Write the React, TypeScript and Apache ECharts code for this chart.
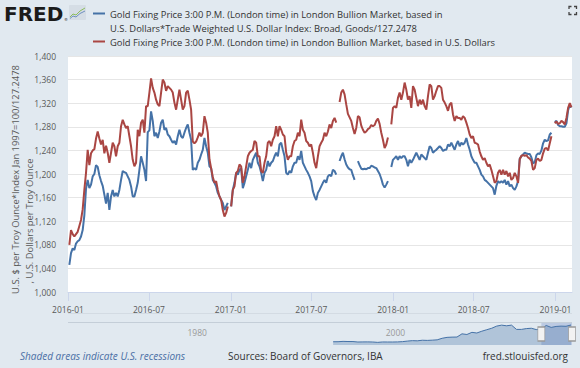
import React, { useEffect, useRef } from 'react';
import * as echarts from 'echarts';

// ---------- data ----------
// Samples of the two daily series, taken every STEP_DAYS from SERIES_START
const SERIES_START = '2016-01-04';
const STEP_DAYS = 3.75;

// Gold, USD per troy ounce
const USD_2016_H1 = [1080,1105,1098,1094,1098,1102,1112,1122,1140,1173,1202,1241,1215,1235,1240,1242,1260,1272,1260,1250,1258,1235,1248,1236,1219,1236,1253,1247,1230,1247,1253,1281,1292,1284,1278,1281,1264,1247,1224,1213,1219,1275,1264,1287,1292,1270,1315];
const USD_2016_H2 = [1315,1338,1362,1346,1338,1326,1318,1315,1338,1360,1355,1341,1349,1346,1343,1338,1321,1309,1326,1343,1326,1309,1315,1338,1341,1326,1309,1255,1252,1255,1262,1270,1264,1270,1298,1287,1270,1225,1210,1195,1185,1188,1173,1162,1156,1139,1128,1134,1145,null];
const USD_2017_H1 = [1145,1173,1179,1202,1205,1216,1213,1185,1196,1213,1230,1236,1239,1241,1256,1253,1230,1230,1205,1202,1219,1230,1253,1256,1247,1258,1264,1281,1264,1281,1275,1267,1264,1236,1224,1230,1230,1247,1256,1258,1270,1264,1292,1275,1270,1256,1253,1247,1250];
const USD_2017_H2 = [1236,1219,1210,1230,1247,1253,1258,1270,1264,1272,1284,1278,1290,1295,1287,null,1322,1338,1343,1335,1318,1302,1296,1290,1278,1268,1278,1298,1296,1282,1275,1270,1272,1276,1278,1283,1281,1283,1290,1294,1285,1270,1258,1244,1250,1262,null,1284,1312];
const USD_2018_H1 = [1315,1312,1329,1338,1326,1338,1355,1343,1326,1332,1312,1349,1343,1329,1315,1326,1318,1326,1315,1309,1332,1352,1349,1326,1332,1341,1349,1349,1346,1326,1321,1315,1307,1318,1321,1301,1290,1298,1295,1295,1292,1298,1295,1287,1278,1267,1261,1264,1253];
const USD_2018_H2 = [1252,1250,1238,1230,1224,1227,1219,1213,1216,1207,1196,1185,1188,1202,1207,1199,1207,1199,1205,1196,1202,1190,1193,1202,1196,1185,1225,1231,1232,1231,1232,1228,1226,1222,1207,1210,1224,1226,1222,1224,1235,1243,1244,1240,1252,1264,null,1286,1289,1285,1286,1290,1288,1284,1295,1312,1320,1313];

// Gold * Trade Weighted USD Index (Broad, Goods) / 127.2478
const TWI_2016_H1 = [1046,1066,1074,1071,1082,1086,1088,1094,1105,1130,1175,1190,1176,1182,1196,1200,1215,1212,1198,1188,1180,1165,1150,1168,1139,1162,1173,1162,1168,1162,1173,1190,1205,1203,1202,1196,1190,1179,1162,1162,1173,1185,1207,1230,1219,1207,1188];
const TWI_2016_H2 = [1271,1274,1306,1290,1264,1270,1261,1272,1287,1292,1275,1278,1267,1264,1258,1253,1256,1250,1264,1275,1264,1261,1270,1278,1284,1270,1258,1207,1210,1207,1219,1224,1233,1241,1261,1247,1236,1213,1210,1190,1185,1179,1168,1162,1156,1151,1139,1145,1151,null];
const TWI_2017_H1 = [1145,1173,1185,1202,1199,1207,1210,1176,1185,1196,1207,1219,1210,1224,1230,1236,1219,1213,1202,1188,1202,1207,1222,1213,1219,1222,1230,1236,1230,1250,1253,1241,1230,1202,1199,1205,1202,1213,1219,1219,1230,1224,1239,1219,1213,1207,1202,1196,1188];
const TWI_2017_H2 = [1171,1162,1156,1168,1173,1179,1185,1190,1185,1196,1199,1196,1207,1205,1199,null,1222,1230,1236,1225,1216,1211,1208,1207,1198,1190,null,1222,1215,1209,1208,1209,1208,1210,1210,1214,1213,1211,1210,1205,1200,1192,1182,1177,1182,1188,null,1212,1224];
const TWI_2018_H1 = [1227,1230,1224,1230,1227,1230,1230,1224,1213,1224,1219,1224,1230,1236,1230,1224,1233,1230,1227,1224,1236,1247,1244,1236,1239,1241,1244,1247,1244,1239,1241,1241,1250,1247,1253,1247,1241,1250,1256,1247,1253,1250,1253,1261,1250,1241,1230,1224,1219];
const TWI_2018_H2 = [1219,1213,1207,1199,1196,1190,1188,1185,1182,1179,1176,1165,1180,1188,1185,1188,1185,1190,1182,1188,1179,1182,1176,1173,1179,1188,1226,1230,1233,1236,1235,1234,1234,1228,1218,1220,1232,1235,1234,1240,1252,1258,1256,1257,1267,1270,null,1288,1290,1283,1281,1281,1280,1280,1286,1308,1317,1313];

const X_MIN = '2016-01-01';
const X_MAX = '2019-02-07';
const X_TICKS = ['2016-01-01', '2016-07-01', '2017-01-01', '2017-07-01', '2018-01-01', '2018-07-01', '2019-01-01'];
const Y_MIN = 1000;
const Y_MAX = 1400;
const Y_STEP = 40;

// Navigator (full history of the first series, coarse)
const NAV_MIN = '1968-04-01';
const NAV_TICKS = ['1980-01-01', '2000-01-01'];
const NAV_DATES = ['1995-01','1995-07','1996-01','1996-07','1997-01','1997-07','1998-01','1998-07','1999-01','1999-07','2000-01','2000-07','2001-01','2001-07','2002-01','2002-07','2003-01','2003-07','2004-01','2004-07','2005-01','2005-07','2006-01','2006-07','2007-01','2007-07','2008-01','2008-07','2009-01','2009-07','2010-01','2010-07','2011-01','2011-07','2012-01','2012-07','2013-01','2013-07','2014-01','2014-07','2015-01','2015-07','2016-01','2016-07','2017-01','2017-07','2018-01','2018-07','2019-01'];
const NAV_VALUES = [278,280,300,292,290,262,268,270,262,240,265,262,262,268,285,318,345,335,370,360,375,395,490,545,560,565,760,720,850,810,920,1010,1100,1230,1290,1250,1290,1030,1030,1080,1100,1020,1050,1270,1150,1210,1230,1220,1300];
const NAV_SELECTION = ['2016-01-04', '2019-02-07'];

const SERIES_NAMES = [
  'Gold Fixing Price 3:00 P.M. (London time) in London Bullion Market, based in U.S. Dollars*Trade Weighted U.S. Dollar Index: Broad, Goods/127.2478',
  'Gold Fixing Price 3:00 P.M. (London time) in London Bullion Market, based in U.S. Dollars',
];

// ---------- styles ----------
const BLUE = '#4572a7';
const RED = '#aa4643';
const BG = '#e1e9f0';
const FONT = '"Open Sans", "DejaVu Sans", sans-serif';

function ts(s: string): number {
  const p = s.split('-').map(Number);
  return new Date(p[0], (p[1] || 1) - 1, p[2] || 1).getTime();
}

function buildSeries(values: (number | null)[]) {
  const t0 = ts(SERIES_START);
  return values.map((v, i) => [t0 + i * STEP_DAYS * 86400000, v]);
}

function ym(v: number) {
  const d = new Date(v);
  return d.getFullYear() + '-' + String(d.getMonth() + 1).padStart(2, '0');
}

export default function App() {
  const ref = useRef<HTMLDivElement>(null);

  useEffect(() => {
    if (!ref.current) return;
    document.body.style.margin = '0';
    const chart = echarts.init(ref.current, undefined, { renderer: 'svg' });

    const usd = [...USD_2016_H1, ...USD_2016_H2, ...USD_2017_H1, ...USD_2017_H2, ...USD_2018_H1, ...USD_2018_H2];
    const twi = [...TWI_2016_H1, ...TWI_2016_H2, ...TWI_2017_H1, ...TWI_2017_H2, ...TWI_2018_H1, ...TWI_2018_H2];
    const nav = NAV_DATES.map((d, i) => [ts(d), NAV_VALUES[i]]);
    const navMid = (80 + 1420) / 2;

    const legendFont = '9.4px ' + FONT;
    const titleFont = '9.4px ' + FONT;
    const footFont = '10px ' + FONT;
    const textCol = '#333333';

    chart.setOption({
      animation: false,
      backgroundColor: BG,
      textStyle: { fontFamily: FONT },
      grid: [
        { left: 68, top: 56, width: 504, height: 236, show: true, backgroundColor: '#ffffff', borderWidth: 0 },
        { left: 68, top: 323, width: 504, height: 22, show: false },
      ],
      xAxis: [
        {
          type: 'value', gridIndex: 0, min: ts(X_MIN), max: ts(X_MAX), scale: true,
          axisLine: { show: true, lineStyle: { color: '#ccd6eb', width: 1 } },
          axisTick: { show: true, customValues: X_TICKS.map(ts), length: 9, lineStyle: { color: '#ccd6eb' } },
          axisLabel: { customValues: X_TICKS.map(ts), formatter: (v: number) => ym(v), color: '#595959', fontSize: 8.5, margin: 13 },
          splitLine: { show: false },
        },
        {
          type: 'value', gridIndex: 1, min: ts(NAV_MIN), max: ts(X_MAX), scale: true,
          axisLine: { show: false }, axisTick: { show: false }, splitLine: { show: false },
          axisLabel: {
            inside: true, customValues: NAV_TICKS.map(ts), margin: 8,
            formatter: (v: number) => String(new Date(v).getFullYear()),
            color: '#999999', fontSize: 8.5, align: 'left', padding: [0, 0, 0, 3],
          },
        },
      ],
      yAxis: [
        {
          type: 'value', gridIndex: 0, min: Y_MIN, max: Y_MAX, interval: Y_STEP,
          axisLine: { show: false }, axisTick: { show: false },
          axisLabel: { color: '#595959', fontSize: 8.5, margin: 12, formatter: (v: number) => v.toLocaleString('en-US') },
          splitLine: { lineStyle: { color: '#e6e6e6', width: 1 } },
        },
        { type: 'value', gridIndex: 1, min: 80, max: 1420, show: false },
      ],
      series: [
        {
          name: SERIES_NAMES[0], type: 'line', xAxisIndex: 0, yAxisIndex: 0,
          data: buildSeries(twi), showSymbol: false, connectNulls: false,
          lineStyle: { color: BLUE, width: 2 }, itemStyle: { color: BLUE }, silent: true,
        },
        {
          name: SERIES_NAMES[1], type: 'line', xAxisIndex: 0, yAxisIndex: 0,
          data: buildSeries(usd), showSymbol: false, connectNulls: false,
          lineStyle: { color: RED, width: 2 }, itemStyle: { color: RED }, silent: true,
        },
        {
          name: 'navigator', type: 'line', xAxisIndex: 1, yAxisIndex: 1,
          data: nav, showSymbol: false, silent: true,
          lineStyle: { color: BLUE, width: 1 }, areaStyle: { color: 'rgba(69,114,167,0.45)' },
          markArea: {
            silent: true,
            itemStyle: { color: 'rgba(102,133,194,0.3)' },
            data: [[{ xAxis: ts(NAV_SELECTION[0]) }, { xAxis: ts(NAV_SELECTION[1]) }]],
          },
          markPoint: {
            silent: true, symbol: 'rect', symbolSize: [7, 14], label: { show: false },
            itemStyle: { color: '#f2f2f2', borderColor: '#999999', borderWidth: 1 },
            data: [
              { coord: [ts(NAV_SELECTION[0]), navMid] },
              { coord: [ts(NAV_SELECTION[1]), navMid] },
            ],
          },
        },
      ],
      graphic: [
        // FRED logo
        { type: 'text', x: 4, y: 4, style: { text: 'FRED', font: 'bold 20px "DejaVu Sans"', fill: '#1b1b1b' } },
        { type: 'text', x: 64, y: 17, style: { text: '\u00ae', font: '4px "DejaVu Sans"', fill: '#1b1b1b' } },
        { type: 'rect', shape: { x: 69, y: 5, width: 17, height: 15, r: 1 }, style: { fill: '#d5dde5' } },
        { type: 'polyline', shape: { points: [[70, 17], [73, 14], [76, 15], [80, 11], [85, 8]] }, style: { stroke: '#8bbd5c', lineWidth: 1, fill: null } },
        { type: 'polyline', shape: { points: [[70, 18.5], [73, 16], [76, 17], [80, 13.5], [85, 11]] }, style: { stroke: '#6d8fbf', lineWidth: 1, fill: null } },
        // legend
        { type: 'line', shape: { x1: 93, y1: 13.5, x2: 105, y2: 13.5 }, style: { stroke: BLUE, lineWidth: 2 } },
        { type: 'text', x: 110, y: 14, style: { text: 'Gold Fixing Price 3:00 P.M. (London time) in London Bullion Market, based in', font: legendFont, fill: textCol, verticalAlign: 'middle' } },
        { type: 'text', x: 110, y: 28, style: { text: 'U.S. Dollars*Trade Weighted U.S. Dollar Index: Broad, Goods/127.2478', font: legendFont, fill: textCol, verticalAlign: 'middle' } },
        { type: 'line', shape: { x1: 93, y1: 41.5, x2: 105, y2: 41.5 }, style: { stroke: RED, lineWidth: 2 } },
        { type: 'text', x: 110, y: 42, style: { text: SERIES_NAMES[1], font: legendFont, fill: textCol, verticalAlign: 'middle' } },
        // full-screen icon
        { type: 'polyline', shape: { points: [[569, 9], [569, 6.5], [571.5, 6.5]] }, style: { stroke: '#444', lineWidth: 1.3, fill: null } },
        { type: 'polyline', shape: { points: [[574, 6.5], [576.5, 6.5], [576.5, 9]] }, style: { stroke: '#444', lineWidth: 1.3, fill: null } },
        { type: 'polyline', shape: { points: [[569, 12], [569, 14.5], [571.5, 14.5]] }, style: { stroke: '#444', lineWidth: 1.3, fill: null } },
        { type: 'polyline', shape: { points: [[574, 14.5], [576.5, 14.5], [576.5, 12]] }, style: { stroke: '#444', lineWidth: 1.3, fill: null } },
        // y-axis title
        { type: 'text', x: 15, y: 179.5, rotation: Math.PI / 2, style: { text: 'U.S. $ per Troy Ounce*Index Jan 1997=100/127.2478', font: titleFont, fill: '#595959', align: 'center', verticalAlign: 'middle' } },
        { type: 'text', x: 29, y: 221, rotation: Math.PI / 2, style: { text: ', U.S. Dollars per Troy Ounce', font: titleFont, fill: '#595959', align: 'center', verticalAlign: 'middle' } },
        // navigator frame lines
        { type: 'line', shape: { x1: 68, y1: 313.5, x2: 572, y2: 313.5 }, style: { stroke: '#d3dbe3', lineWidth: 1 } },
        { type: 'line', shape: { x1: 68, y1: 322.5, x2: 572, y2: 322.5 }, style: { stroke: '#c4ced8', lineWidth: 1 } },
        // footer
        { type: 'text', x: 20, y: 356, style: { text: 'Shaded areas indicate U.S. recessions', font: 'italic ' + footFont, fill: '#4a6fa5', verticalAlign: 'middle' } },
        { type: 'text', x: 228, y: 356, style: { text: 'Sources: Board of Governors, IBA', font: footFont, fill: textCol, verticalAlign: 'middle' } },
        { type: 'text', x: 568, y: 356, style: { text: 'fred.stlouisfed.org', font: footFont, fill: textCol, align: 'right', verticalAlign: 'middle' } },
      ],
    });

    return () => chart.dispose();
  }, []);

  return <div ref={ref} style={{ position: 'absolute', left: 0, top: 0, width: 580, height: 368 }} />;
}
